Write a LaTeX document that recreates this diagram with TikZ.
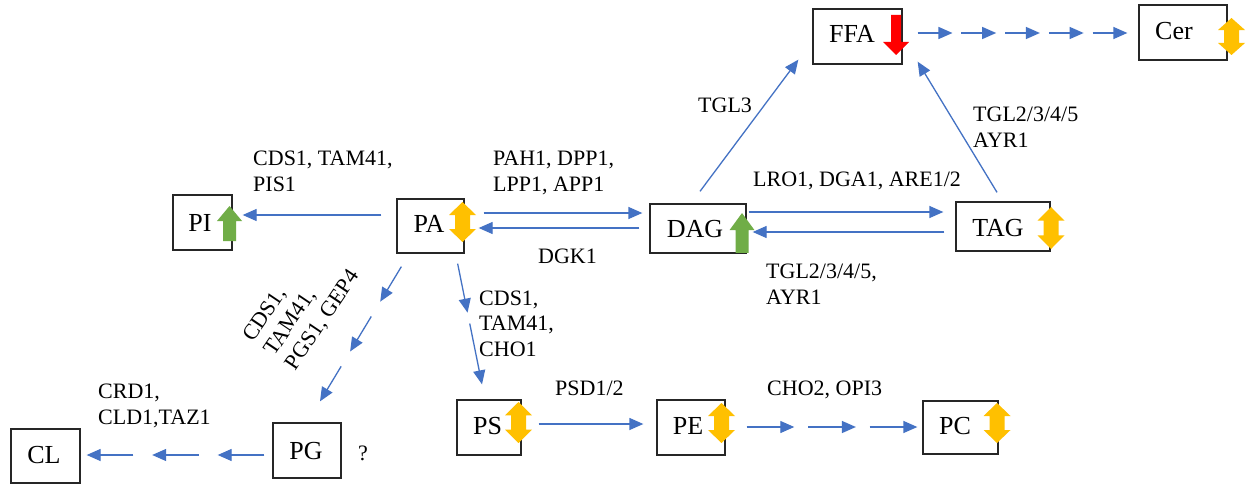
\documentclass[tikz,border=0pt]{standalone}
\usepackage{fontspec}
\setmainfont{Liberation Serif}
\usetikzlibrary{arrows.meta,calc}
\definecolor{flowblue}{HTML}{4472C4}
\definecolor{amber}{HTML}{FFC000}
\definecolor{leafgreen}{HTML}{70AD47}
\definecolor{alertred}{HTML}{FF0000}
\tikzset{
  % two-headed amber block arrow (level unchanged)
  bothways/.pic={\fill[amber] (0,-20) -- (13.5,-7) -- (7.5,-7) -- (7.5,7) -- (13.5,7) -- (0,20)
      -- (-13.5,7) -- (-7.5,7) -- (-7.5,-7) -- (-13.5,-7) -- cycle;},
  % green block arrow pointing up (increase)
  risearrow/.pic={\fill[leafgreen] (0,-17.5) -- (12.5,-2.5) -- (6.5,-2.5) -- (6.5,17.5)
      -- (-6.5,17.5) -- (-6.5,-2.5) -- (-12.5,-2.5) -- cycle;},
  % red block arrow pointing down (decrease)
  droparrow/.pic={\fill[alertred] (0,20) -- (13,7) -- (5,7) -- (5,-20) -- (-5,-20)
      -- (-5,7) -- (-13,7) -- cycle;}
}
\begin{document}
\begin{tikzpicture}[x=1pt,y=-1pt,
  box/.style={draw=black!85, line width=1.3pt, inner sep=0pt},
  boxlbl/.style={font=\fontsize{26}{30}\selectfont, inner sep=0pt, anchor=base},
  enz/.style={font=\fontsize{22}{25.5}\selectfont, inner sep=0pt, align=left, anchor=base west},
  flow/.style={draw=flowblue, line width=1.3pt, -{Triangle[length=14pt,width=12pt]}}]
\useasboundingbox[fill=white] (0,0) rectangle (1249,484);

% lipid boxes
\node[box, minimum width=89pt, minimum height=55pt] (FFA) at (857.5,36.5) {};
\node[box, minimum width=88pt, minimum height=55pt] (Cer) at (1183,32.5) {};
\node[box, minimum width=59pt, minimum height=55pt] (PI)  at (202.5,222.5) {};
\node[box, minimum width=67pt, minimum height=54pt] (PA)  at (430.5,226) {};
\node[box, minimum width=96pt, minimum height=49pt] (DAG) at (698,228.5) {};
\node[box, minimum width=94pt, minimum height=49pt] (TAG) at (1003,226.5) {};
\node[box, minimum width=64pt, minimum height=55pt] (PS)  at (489,427.5) {};
\node[box, minimum width=68pt, minimum height=55pt] (PE)  at (691,427.5) {};
\node[box, minimum width=75pt, minimum height=53pt] (PC)  at (960.5,427.5) {};
\node[box, minimum width=68pt, minimum height=55pt] (PG)  at (307,450.5) {};
\node[box, minimum width=69pt, minimum height=54pt] (CL)  at (45.5,456) {};

% box names
\node[boxlbl] (FFA-t) at (852,43) {FFA};
\node[boxlbl] (Cer-t) at (1174,40) {Cer};
\node[boxlbl] (PI-t)  at (200,231) {PI};
\node[boxlbl] (PA-t)  at (429,232) {PA};
\node[boxlbl] (DAG-t) at (695,237) {DAG};
\node[boxlbl] (TAG-t) at (998,236) {TAG};
\node[boxlbl] (PS-t)  at (487.5,434) {PS};
\node[boxlbl] (PE-t)  at (688,434) {PE};
\node[boxlbl] (PC-t)  at (955,434) {PC};
\node[boxlbl] (PG-t)  at (306,459) {PG};
\node[boxlbl] (CL-t)  at (44,463) {CL};

% level markers
\pic at (896,35) {droparrow};
\pic[yscale=0.925] at (1231.5,36.5) {bothways};
\pic at (229.5,223.5) {risearrow};
\pic at (462.5,222) {bothways};
\pic[yscale=1.14] at (742,233) {risearrow};
\pic[yscale=1.05] at (1051,228) {bothways};
\pic[yscale=1.025] at (518.5,422.5) {bothways};
\pic at (721.5,423) {bothways};
\pic at (997,423) {bothways};

% enzyme labels (anchored at the baseline of their last line)
\node[enz] (cds-pi) at (253,191) {CDS1, TAM41,\\PIS1};
\node[enz] (pah)    at (493,191) {PAH1, DPP1,\\LPP1, APP1};
\node[enz] (dgk)    at (538,263) {DGK1};
\node[enz] (tgl3)   at (698,113) {TGL3};
\node[enz] (tgl-up) at (973,147) {TGL2/3/4/5\\AYR1};
\node[enz] (lro)    at (753,186) {LRO1, DGA1, ARE1/2};
\node[enz] (tgl-dn) at (766,304) {TGL2/3/4/5,\\AYR1};
\node[enz] (cho1)   at (479,356) {CDS1,\\TAM41,\\CHO1};
\node[enz] (psd)    at (555,395) {PSD1/2};
\node[enz] (cho2)   at (767,395) {CHO2, OPI3};
\node[enz] (crd)    at (98,424) {CRD1,\\CLD1,TAZ1};
\node[enz] (unk)    at (358,460) {?};
\node[enz, anchor=center, rotate=56] (pgs) at (302,306) {CDS1,\\TAM41,\\PGS1, GEP4};

% single-step reactions
\draw[flow] ($(PA.west)+(-15,-11)$) -- ($(PI.east)+(10,-7.5)$);
\draw[flow] ($(PA.east)+(19,-13)$) -- ($(DAG.west)+(-7,-15.5)$);
\draw[flow] ($(DAG.west)+(-10,-0.5)$) -- ($(PA.east)+(14,2)$);
\draw[flow] ($(DAG.east)+(2,-16.5)$) -- ($(TAG.west)+(-12,-14.5)$);
\draw[flow] ($(TAG.west)+(-11,5.5)$) -- ($(DAG.east)+(6,3.5)$);
\draw[flow] ($(DAG.north)+(2,-12)$) -- ($(FFA.south west)+(-14,-5)$);
\draw[flow] ($(TAG.north)+(-6,-9)$) -- ($(FFA.south east)+(15,-3)$);
\draw[flow] ($(PS.east)+(17,-3.5)$) -- ($(PE.west)+(-13,-3.5)$);

% multi-step pathways
\coordinate (ffa-out) at ($(FFA.east)+(15,-3.5)$);
\coordinate (cer-in)  at ($(Cer.west)+(-11,0.5)$);
\foreach \a/\b in {0/0.166, 0.2085/0.3744, 0.417/0.583, 0.6256/0.7915, 0.834/1}
  \draw[flow] ($(ffa-out)!\a!(cer-in)$) -- ($(ffa-out)!\b!(cer-in)$);

\coordinate (pe-out) at ($(PE.east)+(21,-0.5)$);
\coordinate (pc-in)  at ($(PC.west)+(-5,-0.5)$);
\foreach \a/\b in {0/0.279, 0.36/0.64, 0.721/1}
  \draw[flow] ($(pe-out)!\a!(pc-in)$) -- ($(pe-out)!\b!(pc-in)$);

\coordinate (pg-out) at ($(PG.west)+(-8,4.5)$);
\coordinate (cl-in)  at ($(CL.east)+(6,-1)$);
\foreach \a/\b in {0/0.2626, 0.3687/0.6313, 0.7374/1}
  \draw[flow] ($(pg-out)!\a!(cl-in)$) -- ($(pg-out)!\b!(cl-in)$);

\coordinate (pa-pg) at ($(PA.south west)+(5,13)$);
\coordinate (pg-in) at ($(PG.north)+(13,-21)$);
\foreach \a/\b in {0/0.26, 0.37/0.63, 0.74/1}
  \draw[flow] ($(pa-pg)!\a!(pg-in)$) -- ($(pa-pg)!\b!(pg-in)$);

\coordinate (pa-ps) at ($(PA.south east)+(-7,10)$);
\coordinate (ps-in) at ($(PS.north)+(-7,-15)$);
\foreach \a/\b in {0/0.406, 0.496/1}
  \draw[flow] ($(pa-ps)!\a!(ps-in)$) -- ($(pa-ps)!\b!(ps-in)$);
\end{tikzpicture}
\end{document}
